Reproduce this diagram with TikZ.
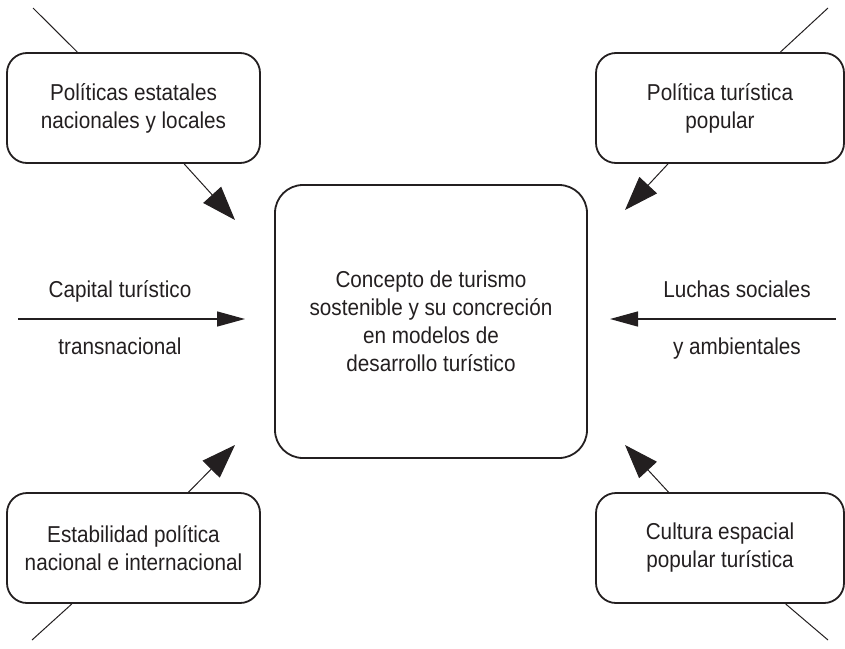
\documentclass[tikz,border=0pt]{standalone}
\usepackage{fontspec}
\setmainfont{Liberation Sans}[FakeStretch=0.9]
\usetikzlibrary{arrows.meta}
\definecolor{ink}{HTML}{231F20}
\begin{document}
\begin{tikzpicture}[x=1pt,y=-1pt,
  every node/.style={text=ink},
  sidebox/.style={draw=ink,line width=1.8pt,rounded corners=20pt,align=center,
    font=\fontsize{23}{28}\selectfont,inner sep=0pt},
  mainbox/.style={draw=ink,line width=1.8pt,rounded corners=28pt,align=center,
    font=\fontsize{23}{28}\selectfont,inner sep=0pt,minimum width=312pt,minimum height=273pt},
  lbl/.style={font=\fontsize{23}{28}\selectfont,anchor=base},
  thin/.style={draw=ink,line width=1pt},
  diag/.style={draw=ink,line width=1pt,-{Triangle[length=34pt,width=24pt]}},
  horiz/.style={draw=ink,line width=1.4pt,-{Triangle[length=28pt,width=15pt]}}]
\useasboundingbox (0,0) rectangle (845,648);

\node[mainbox] (c) at (431,321.5) {Concepto de turismo\\sostenible y su concreción\\en modelos de\\desarrollo turístico};

\node[sidebox,minimum width=253pt,minimum height=110pt] (tl) at (133.5,108) {Políticas estatales\\nacionales y locales};
\node[sidebox,minimum width=248pt,minimum height=110pt] (tr) at (720,108) {Política turística\\popular};
\node[sidebox,minimum width=253pt,minimum height=110pt] (bl) at (133.5,548) {Estabilidad política\\nacional e internacional};
\node[sidebox,minimum width=248pt,minimum height=110pt] (br) at (720,548) {Cultura espacial\\popular turística};

\node[lbl] (cap1) at (120,297) {Capital turístico};
\node[lbl] (cap2) at (120,354) {transnacional};
\node[lbl] (luc1) at (737,297) {Luchas sociales};
\node[lbl] (luc2) at (737,354) {y ambientales};

\coordinate (otl) at (33,8);
\coordinate (ttl) at (235,220);
\coordinate (otr) at (828,8);
\coordinate (ttr) at (625,210);
\coordinate (obl) at (32,640);
\coordinate (tbl) at (235,445);
\coordinate (obr) at (828,640);
\coordinate (tbr) at (625,445);
\coordinate (ls) at (18,319);
\coordinate (lt) at (245,319);
\coordinate (rs) at (836,319);
\coordinate (rt) at (610,319);

\draw[thin] (otl) -- (tl);
\draw[diag] (tl) -- (ttl);
\draw[thin] (otr) -- (tr);
\draw[diag] (tr) -- (ttr);
\draw[thin] (obl) -- (bl);
\draw[diag] (bl) -- (tbl);
\draw[thin] (obr) -- (br);
\draw[diag] (br) -- (tbr);
\draw[horiz] (ls) -- (lt);
\draw[horiz] (rs) -- (rt);
\end{tikzpicture}
\end{document}
